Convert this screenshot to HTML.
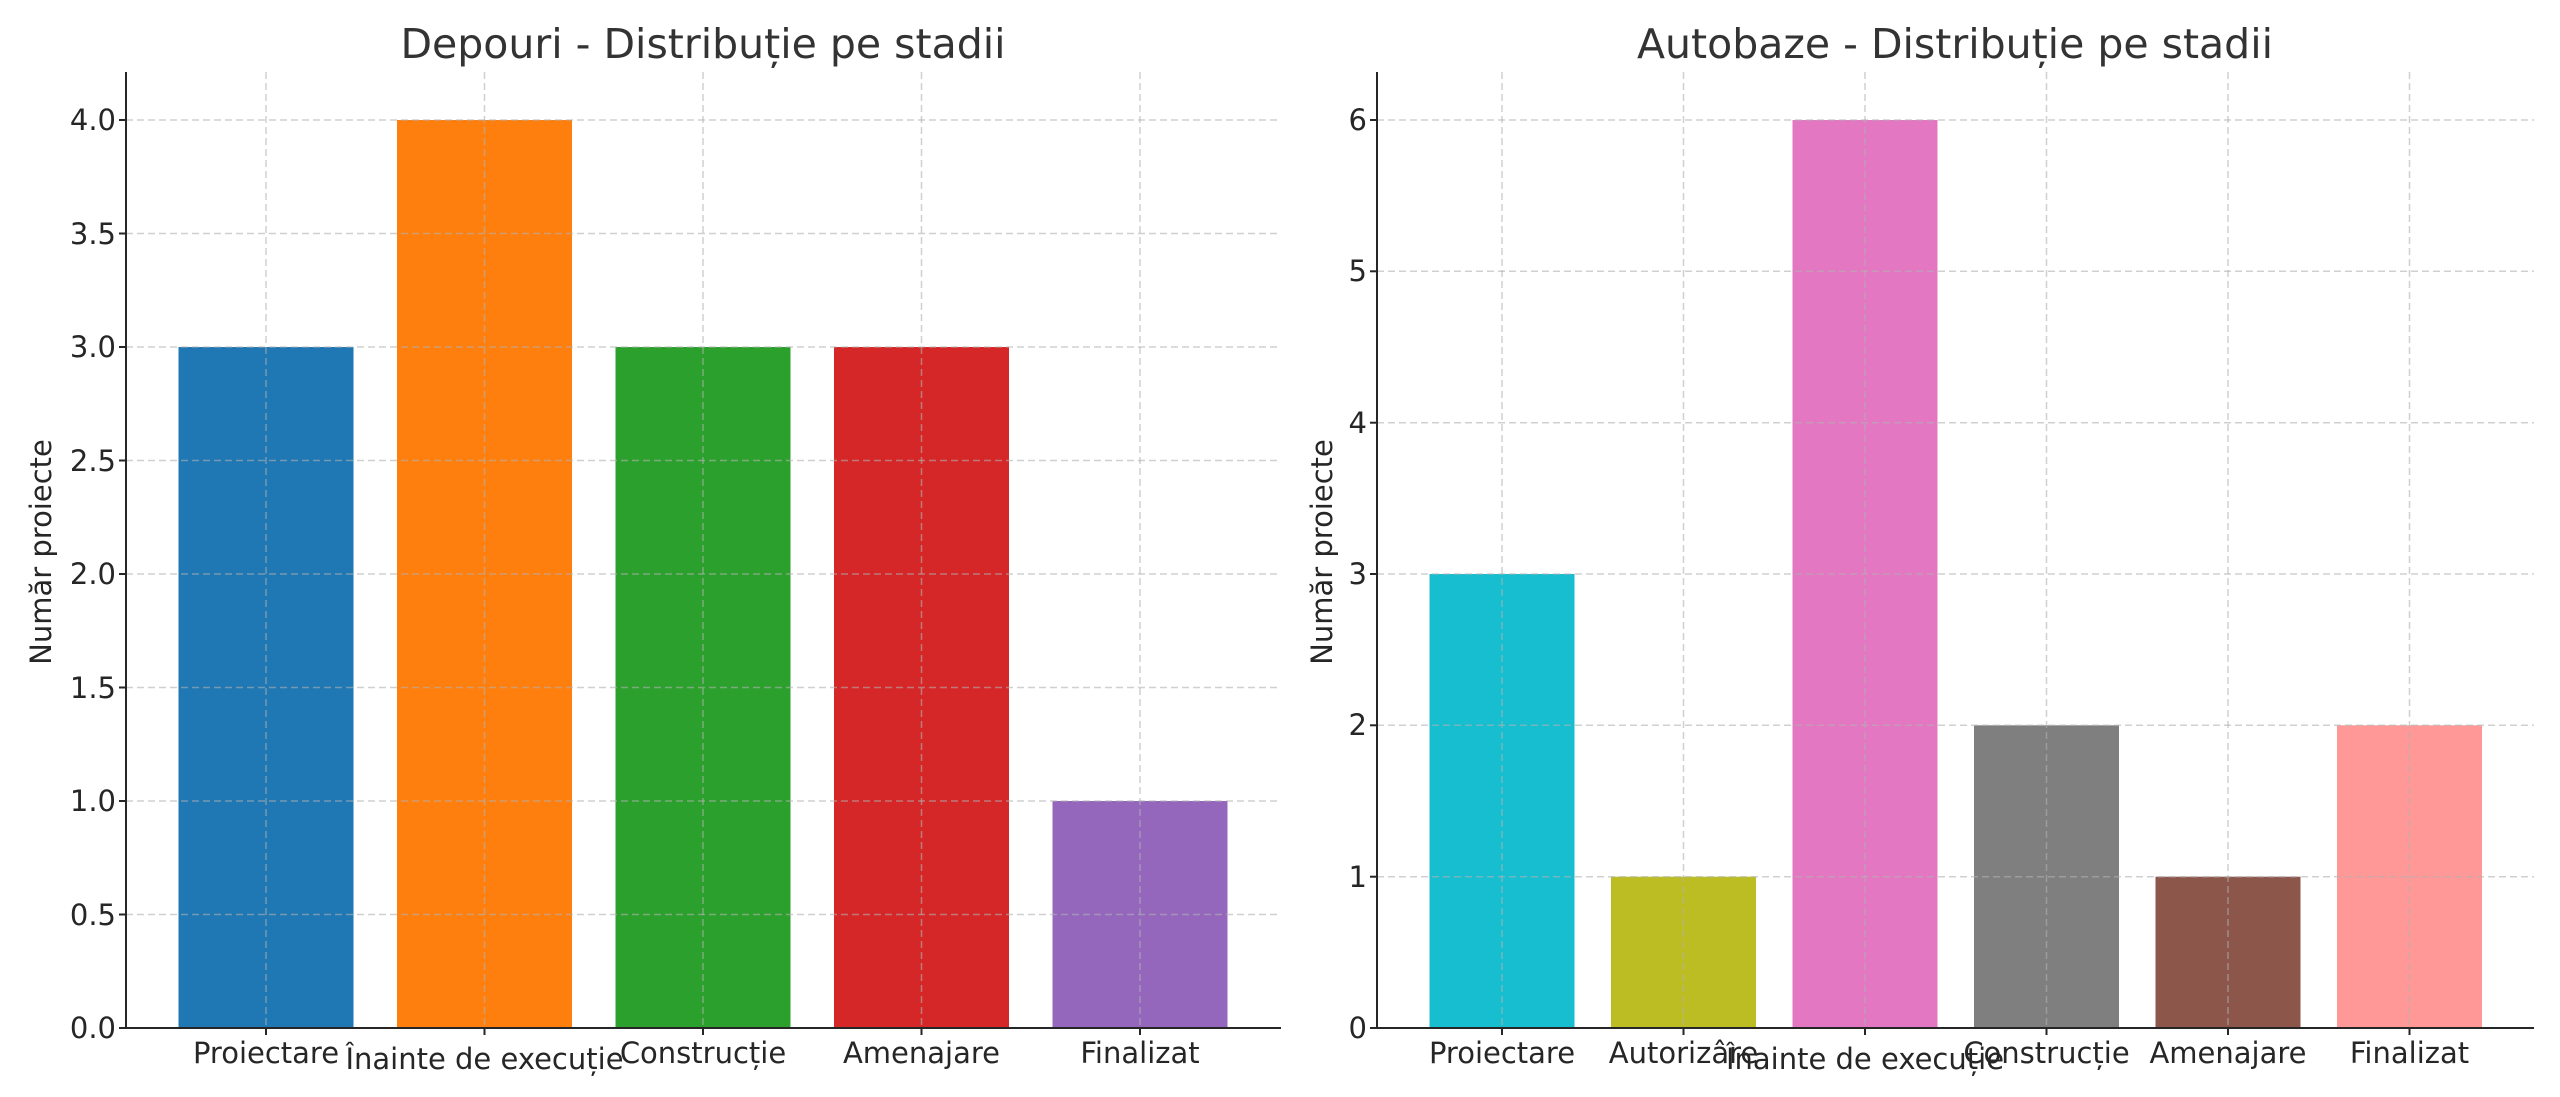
<!DOCTYPE html>
<html><head><meta charset="utf-8"><style>
html,body{margin:0;padding:0;background:#fff}
svg{display:block}
text{font-family:"DejaVu Sans","Liberation Sans",sans-serif;fill:#262626}
</style></head><body>
<svg width="2560" height="1097" viewBox="0 0 2560 1097" xmlns="http://www.w3.org/2000/svg">
<rect width="2560" height="1097" fill="#fff"/>
<!-- LEFT CHART -->
<g>
<rect x="178.5" y="347" width="175" height="681" fill="#1f77b4"/>
<rect x="397" y="120" width="175" height="908" fill="#ff7f0e"/>
<rect x="615.5" y="347" width="175" height="681" fill="#2ca02c"/>
<rect x="834" y="347" width="175" height="681" fill="#d62728"/>
<rect x="1052.5" y="801" width="175" height="227" fill="#9467bd"/>
<g stroke="#b0b0b0" stroke-opacity="0.6" stroke-width="1.5" stroke-dasharray="7,4" fill="none">
<line x1="126" x2="1281" y1="914.5" y2="914.5"/>
<line x1="126" x2="1281" y1="801" y2="801"/>
<line x1="126" x2="1281" y1="687.5" y2="687.5"/>
<line x1="126" x2="1281" y1="574" y2="574"/>
<line x1="126" x2="1281" y1="460.5" y2="460.5"/>
<line x1="126" x2="1281" y1="347" y2="347"/>
<line x1="126" x2="1281" y1="233.5" y2="233.5"/>
<line x1="126" x2="1281" y1="120" y2="120"/>
<line x1="266" x2="266" y1="72" y2="1028"/>
<line x1="484.5" x2="484.5" y1="72" y2="1028"/>
<line x1="703" x2="703" y1="72" y2="1028"/>
<line x1="921.5" x2="921.5" y1="72" y2="1028"/>
<line x1="1140" x2="1140" y1="72" y2="1028"/>
</g>
<g stroke="#262626" stroke-width="2" fill="none">
<line x1="126" y1="72" x2="126" y2="1029"/>
<line x1="125" y1="1028" x2="1281" y2="1028"/>
<line x1="119" x2="126" y1="1028" y2="1028"/><line x1="119" x2="126" y1="914.5" y2="914.5"/>
<line x1="119" x2="126" y1="801" y2="801"/><line x1="119" x2="126" y1="687.5" y2="687.5"/>
<line x1="119" x2="126" y1="574" y2="574"/><line x1="119" x2="126" y1="460.5" y2="460.5"/>
<line x1="119" x2="126" y1="347" y2="347"/><line x1="119" x2="126" y1="233.5" y2="233.5"/>
<line x1="119" x2="126" y1="120" y2="120"/>
<line x1="266" x2="266" y1="1028" y2="1035"/><line x1="484.5" x2="484.5" y1="1028" y2="1035"/>
<line x1="703" x2="703" y1="1028" y2="1035"/><line x1="921.5" x2="921.5" y1="1028" y2="1035"/>
<line x1="1140" x2="1140" y1="1028" y2="1035"/>
</g>
<g font-size="29" text-anchor="end">
<text x="116" y="1038">0.0</text><text x="116" y="925">0.5</text>
<text x="116" y="811">1.0</text><text x="116" y="698">1.5</text>
<text x="116" y="584">2.0</text><text x="116" y="471">2.5</text>
<text x="116" y="357">3.0</text><text x="116" y="244">3.5</text>
<text x="116" y="130">4.0</text>
</g>
<g font-size="29" text-anchor="middle">
<text x="266" y="1063">Proiectare</text>
<text x="484.5" y="1069">Înainte de execuție</text>
<text x="703" y="1063">Construcție</text>
<text x="921.5" y="1063">Amenajare</text>
<text x="1140" y="1063">Finalizat</text>
</g>
<text x="703" y="58" font-size="41" text-anchor="middle" style="fill:#333">Depouri - Distribuție pe stadii</text>
<text transform="translate(51,552) rotate(-90)" font-size="29" text-anchor="middle">Număr proiecte</text>
</g>
<!-- RIGHT CHART -->
<g>
<rect x="1429.5" y="574" width="145" height="454" fill="#17becf"/>
<rect x="1611" y="876.7" width="145" height="151.3" fill="#bcbd22"/>
<rect x="1792.5" y="120" width="145" height="908" fill="#e377c2"/>
<rect x="1974" y="725.3" width="145" height="302.7" fill="#7f7f7f"/>
<rect x="2155.5" y="876.7" width="145" height="151.3" fill="#8c564b"/>
<rect x="2337" y="725.3" width="145" height="302.7" fill="#ff9896"/>
<g stroke="#b0b0b0" stroke-opacity="0.6" stroke-width="1.5" stroke-dasharray="7,4" fill="none">
<line x1="1377" x2="2534" y1="876.7" y2="876.7"/>
<line x1="1377" x2="2534" y1="725.3" y2="725.3"/>
<line x1="1377" x2="2534" y1="574" y2="574"/>
<line x1="1377" x2="2534" y1="422.7" y2="422.7"/>
<line x1="1377" x2="2534" y1="271.3" y2="271.3"/>
<line x1="1377" x2="2534" y1="120" y2="120"/>
<line x1="1502" x2="1502" y1="72" y2="1028"/>
<line x1="1683.5" x2="1683.5" y1="72" y2="1028"/>
<line x1="1865" x2="1865" y1="72" y2="1028"/>
<line x1="2046.5" x2="2046.5" y1="72" y2="1028"/>
<line x1="2228" x2="2228" y1="72" y2="1028"/>
<line x1="2409.5" x2="2409.5" y1="72" y2="1028"/>
</g>
<g stroke="#262626" stroke-width="2" fill="none">
<line x1="1377" y1="72" x2="1377" y2="1029"/>
<line x1="1376" y1="1028" x2="2534" y2="1028"/>
<line x1="1370" x2="1377" y1="1028" y2="1028"/><line x1="1370" x2="1377" y1="876.7" y2="876.7"/>
<line x1="1370" x2="1377" y1="725.3" y2="725.3"/><line x1="1370" x2="1377" y1="574" y2="574"/>
<line x1="1370" x2="1377" y1="422.7" y2="422.7"/><line x1="1370" x2="1377" y1="271.3" y2="271.3"/>
<line x1="1370" x2="1377" y1="120" y2="120"/>
<line x1="1502" x2="1502" y1="1028" y2="1035"/><line x1="1683.5" x2="1683.5" y1="1028" y2="1035"/>
<line x1="1865" x2="1865" y1="1028" y2="1035"/><line x1="2046.5" x2="2046.5" y1="1028" y2="1035"/>
<line x1="2228" x2="2228" y1="1028" y2="1035"/><line x1="2409.5" x2="2409.5" y1="1028" y2="1035"/>
</g>
<g font-size="29" text-anchor="end">
<text x="1367" y="1038">0</text><text x="1367" y="887">1</text>
<text x="1367" y="735">2</text><text x="1367" y="584">3</text>
<text x="1367" y="433">4</text><text x="1367" y="281">5</text>
<text x="1367" y="130">6</text>
</g>
<g font-size="29" text-anchor="middle">
<text x="1502" y="1063">Proiectare</text>
<text x="1683.5" y="1063">Autorizâre</text>
<text x="1865" y="1069">Înainte de execuție</text>
<text x="2046.5" y="1063">Construcție</text>
<text x="2228" y="1063">Amenajare</text>
<text x="2409.5" y="1063">Finalizat</text>
</g>
<text x="1955" y="58" font-size="41" text-anchor="middle" style="fill:#333">Autobaze - Distribuție pe stadii</text>
<text transform="translate(1332,552) rotate(-90)" font-size="29" text-anchor="middle">Număr proiecte</text>
</g>
</svg>
</body></html>
